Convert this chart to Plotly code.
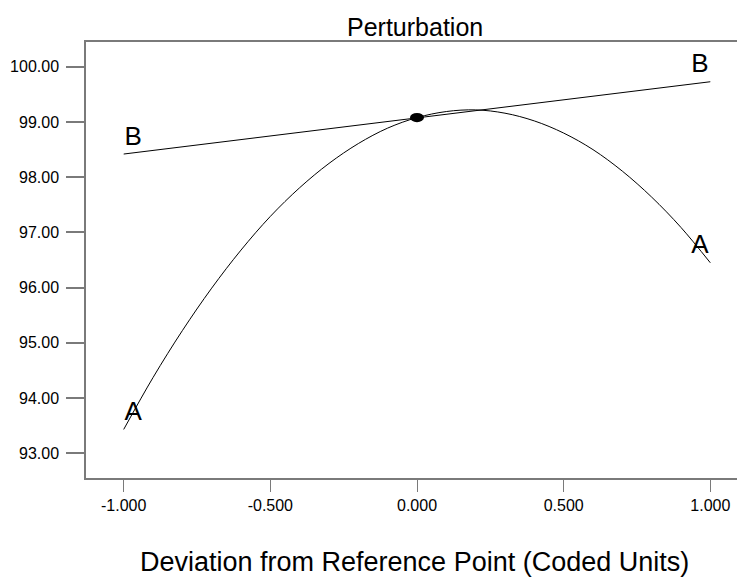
import plotly.graph_objects as go

# ---- data ----
a_x = [-1.0, -0.9, -0.8, -0.7, -0.6, -0.5, -0.4, -0.3, -0.2, -0.1, 0.0,
       0.1, 0.2, 0.3, 0.4, 0.5, 0.6, 0.7, 0.8, 0.9, 1.0]
a_y = [93.43, 94.37, 95.22, 95.99, 96.68, 97.29, 97.81, 98.25, 98.61, 98.89, 99.08,
       99.19, 99.22, 99.16, 99.02, 98.80, 98.50, 98.11, 97.64, 97.09, 96.45]
b_x = [-1.0, 0.0, 1.0]
b_y = [98.42, 99.08, 99.73]

ref_x = 0.0
ref_y = 99.08

label_text = ["A", "A", "B", "B"]
label_x = [-0.968, 0.965, -0.968, 0.965]
label_y = [93.72, 96.74, 98.71, 100.03]

x_ticks = [-1.0, -0.5, 0.0, 0.5, 1.0]
x_tick_labels = ["-1.000", "-0.500", "0.000", "0.500", "1.000"]
y_ticks = [93, 94, 95, 96, 97, 98, 99, 100]
y_tick_labels = ["93.00", "94.00", "95.00", "96.00", "97.00", "98.00", "99.00", "100.00"]

FONT = "Liberation Sans, Arial, sans-serif"
GREY = "#7a7a7a"

fig = go.Figure()
fig.add_trace(go.Scatter(x=a_x, y=a_y, mode="lines", line=dict(color="black", width=1, shape="spline"),
                         hoverinfo="skip", showlegend=False))
fig.add_trace(go.Scatter(x=b_x, y=b_y, mode="lines", line=dict(color="black", width=1),
                         hoverinfo="skip", showlegend=False))
fig.add_trace(go.Scatter(x=label_x, y=label_y, mode="text", text=label_text,
                         textposition="middle center",
                         textfont=dict(family=FONT, size=26, color="black"),
                         hoverinfo="skip", showlegend=False))

# reference point (elliptical dot)
fig.add_shape(type="circle", xref="x", yref="y", xsizemode="pixel", ysizemode="pixel",
              xanchor=ref_x, yanchor=ref_y, x0=-7, x1=7, y0=-4.6, y1=4.6,
              fillcolor="black", line=dict(color="black", width=0))

fig.add_annotation(text="Perturbation", xref="paper", yref="paper", x=0.505, y=1.0344,
                   xanchor="center", yanchor="middle", showarrow=False,
                   font=dict(family=FONT, size=25, color="black"))
fig.add_annotation(text="Deviation from Reference Point (Coded Units)", xref="paper", yref="paper",
                   x=0.505, y=-0.193, xanchor="center", yanchor="middle", showarrow=False,
                   font=dict(family=FONT, size=27, color="black"))

fig.update_layout(
    width=737, height=578,
    margin=dict(l=86, r=0, t=42, b=100),
    paper_bgcolor="white", plot_bgcolor="white",
    font=dict(family=FONT, color="black"),
    showlegend=False,
)
fig.update_xaxes(range=[-1.1285, 1.091], tickvals=x_ticks, ticktext=x_tick_labels,
                 showgrid=False, zeroline=False, showline=True, linecolor=GREY, linewidth=1.5,
                 mirror=True, ticks="outside", ticklen=12, tickwidth=1, tickcolor=GREY,
                 tickfont=dict(family=FONT, size=16, color="black"))
fig.update_yaxes(range=[92.55, 100.45], tickvals=y_ticks, ticktext=y_tick_labels,
                 showgrid=False, zeroline=False, showline=True, linecolor=GREY, linewidth=1.5,
                 ticks="outside", ticklen=18, tickwidth=1.5, tickcolor=GREY,
                 ticklabelstandoff=4,
                 tickfont=dict(family=FONT, size=16, color="black"))

fig.write_html("out.html", config={"displayModeBar": False},
               post_script="document.body.style.margin='0';document.body.style.overflow='hidden';")
